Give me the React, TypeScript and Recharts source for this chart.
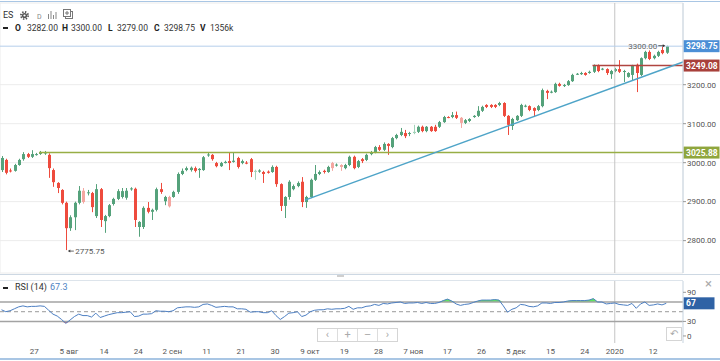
import React from 'react';
import { ComposedChart, Bar, Line, Area, XAxis, YAxis, CartesianGrid, ReferenceLine, ReferenceDot } from 'recharts';

const opens = [
  2981, 3007, 2980, 2979, 2994, 3009, 3022, 3015, 3021, 3024,
  3024, 3020, 2981, 2948, 2930, 2897, 2832, 2860, 2897, 2928,
  2923, 2922, 2863, 2932, 2850, 2863, 2894, 2907, 2912, 2910,
  2932, 2933, 2835, 2835, 2884, 2874, 2879, 2932, 2901, 2912,
  2912, 2925, 2971, 2981, 2981, 2986, 2981, 2981, 3020, 3020,
  2999, 2991, 2999, 3004, 3002, 3012, 2999, 3000, 3009, 2977,
  2977, 2976, 2977, 2976, 2989, 2945, 2889, 2912, 2932, 2940,
  2951, 2899, 2912, 2956, 2971, 2979, 2976, 2999, 2994, 2994,
  2986, 2994, 3015, 2989, 3009, 3007, 3022, 3027, 3040, 3033,
  3048, 3040, 3063, 3071, 3076, 3074, 3076, 3079, 3092, 3081,
  3092, 3092, 3092, 3104, 3117, 3117, 3122, 3115, 3102, 3107,
  3117, 3120, 3133, 3148, 3148, 3148, 3148, 3153, 3120, 3094,
  3109, 3120, 3145, 3145, 3140, 3135, 3145, 3184, 3181, 3181,
  3202, 3197, 3199, 3209, 3227, 3227, 3230, 3230, 3233, 3248,
  3240, 3240, 3227, 3235, 3240, 3233, 3220, 3225, 3251, 3225,
  3268, 3284, 3268, 3274, 3289, 3282,
];
const highs = [
  3017, 3010, 2985, 2997, 3010, 3027, 3025, 3032, 3025, 3030,
  3030, 3024, 2985, 2950, 2932, 2900, 2865, 2900, 2940, 2935,
  2930, 2925, 2945, 2935, 2866, 2894, 2910, 2932, 2935, 2935,
  2937, 2936, 2850, 2888, 2899, 2882, 2936, 2948, 2915, 2915,
  2928, 2975, 2985, 2990, 2990, 2990, 2986, 3017, 3026, 3022,
  3002, 3002, 3005, 3025, 3025, 3015, 3008, 3004, 3012, 2982,
  2983, 2979, 2980, 2993, 2992, 2947, 2914, 2955, 2944, 2952,
  2963, 2915, 2959, 2994, 2980, 2982, 2992, 3002, 2998, 2996,
  2997, 3018, 3018, 3007, 3012, 3023, 3030, 3043, 3045, 3052,
  3050, 3066, 3074, 3089, 3084, 3079, 3097, 3095, 3095, 3094,
  3094, 3097, 3107, 3120, 3119, 3130, 3131, 3117, 3112, 3114,
  3122, 3145, 3146, 3150, 3150, 3150, 3156, 3155, 3122, 3115,
  3122, 3151, 3149, 3147, 3142, 3148, 3190, 3187, 3185, 3205,
  3205, 3202, 3212, 3228, 3230, 3233, 3232, 3236, 3252, 3252,
  3243, 3242, 3238, 3243, 3263, 3238, 3232, 3251, 3254, 3270,
  3287, 3288, 3277, 3287, 3299, 3300,
];
const lows = [
  2976, 2970, 2975, 2977, 2992, 3005, 3012, 3012, 3018, 3020,
  3020, 2961, 2938, 2922, 2893, 2775.75, 2825, 2827, 2893, 2895,
  2916, 2873, 2858, 2835, 2820, 2860, 2890, 2904, 2908, 2905,
  2928, 2835, 2810, 2830, 2870, 2853, 2875, 2920, 2891, 2885,
  2910, 2920, 2968, 2978, 2977, 2975, 2961, 2979, 3015, 3005,
  2988, 2989, 2998, 2981, 3000, 2985, 2996, 2996, 2963, 2956,
  2974, 2948, 2972, 2974, 2938, 2876, 2858, 2905, 2929, 2937,
  2886, 2884, 2909, 2953, 2968, 2972, 2974, 2979, 2990, 2979,
  2983, 2991, 2983, 2986, 2999, 3004, 3019, 3024, 3030, 3030,
  3020, 3037, 3060, 3068, 3063, 3068, 3073, 3076, 3078, 3078,
  3079, 3079, 3089, 3102, 3114, 3114, 3112, 3089, 3099, 3104,
  3115, 3117, 3130, 3140, 3140, 3140, 3145, 3117, 3071, 3084,
  3107, 3117, 3142, 3132, 3117, 3132, 3142, 3163, 3178, 3179,
  3195, 3194, 3197, 3207, 3225, 3225, 3223, 3228, 3230, 3232,
  3237, 3225, 3215, 3232, 3230, 3207, 3218, 3212, 3181, 3222,
  3265, 3263, 3265, 3271, 3278, 3279,
];
const closes = [
  3012, 2974, 2979, 2994, 3007, 3022, 3015, 3022, 3022, 3025,
  3026, 2986, 2950, 2935, 2897, 2832, 2860, 2897, 2928, 2899,
  2924, 2886, 2932, 2853, 2863, 2891, 2907, 2927, 2927, 2928,
  2934, 2853, 2848, 2884, 2874, 2879, 2932, 2925, 2912, 2888,
  2925, 2971, 2979, 2986, 2987, 2979, 2984, 3014, 3021, 3009,
  2991, 2999, 3002, 2999, 3005, 2989, 3004, 2999, 2976, 2979,
  2980, 2971, 2974, 2989, 2945, 2889, 2912, 2951, 2940, 2948,
  2899, 2912, 2956, 2971, 2976, 2976, 2989, 2986, 2995, 2989,
  2994, 3015, 2986, 3004, 3004, 3020, 3027, 3040, 3033, 3048,
  3043, 3063, 3071, 3079, 3068, 3076, 3079, 3092, 3081, 3092,
  3081, 3081, 3104, 3117, 3116, 3122, 3115, 3102, 3109, 3112,
  3120, 3133, 3143, 3143, 3143, 3143, 3153, 3120, 3097, 3112,
  3120, 3148, 3146, 3135, 3133, 3145, 3186, 3179, 3182, 3202,
  3197, 3199, 3209, 3225, 3228, 3230, 3225, 3233, 3248, 3235,
  3241, 3230, 3235, 3240, 3233, 3235, 3230, 3248, 3230, 3268,
  3284, 3266, 3274, 3284, 3281, 3298.75,
];
const rsiValues = [
  54, 50, 52, 56, 60, 62, 60, 61, 61, 62,
  61, 53, 45, 41, 34, 26, 33, 40, 45, 42,
  42, 39, 47, 38, 41, 44, 46, 48, 48, 49,
  50, 40, 41, 45, 45, 46, 52, 51, 51, 50,
  52, 58, 59, 60, 60, 59, 60, 65, 66, 63,
  59, 60, 61, 60, 60, 56, 56, 55, 49, 50,
  50, 48, 48, 52, 42, 34, 40, 47, 48, 50,
  40, 43, 50, 53, 54, 54, 56, 55, 56, 56,
  57, 61, 55, 58, 58, 61, 62, 65, 63, 67,
  66, 68, 69, 70, 67, 68, 68, 69, 67, 69,
  67, 67, 69, 73, 76, 72, 66, 63, 65, 66,
  69, 72, 74, 74, 74, 75, 74, 62, 49, 55,
  58, 65, 64, 61, 60, 62, 68, 68, 67, 69,
  69, 70, 72, 73, 73, 73, 73, 74, 77, 70,
  70, 66, 67, 68, 65, 64, 63, 67, 57, 66,
  70, 63, 64, 66, 64, 67.3,
];
const paleCandles = [19, 39, 59, 77, 79, 96, 107];

const tickIndex = [7.65, 15.73, 23.89, 31.89, 39.81, 47.83, 55.83, 63.75, 71.91, 79.91, 87.93, 95.99, 103.92, 111.93, 119.93, 128.02, 136.01, 142.99, 151.93];
const tickLabels = ['27', '5 авг', '14', '24', '2 сен', '11', '21', '30', '9 окт', '19', '28', '7 ноя', '17', '26', '5 дек', '15', '24', '2020', '12'];
const priceTicks = [2800, 2900, 3000, 3100, 3200];
const rsiTicks = [0, 30, 90];
const yearIndex = 142.99;

const lastPrice = 3298.75;
const redLevel = 3249.08;
const redStart = 137.8;
const oliveLevel = 3025.88;
const oliveStart = 8.74;
const trendFrom = { i: 70.75, p: 2904 };
const trendTo = { i: 158.9, p: 3258 };
const lowMark = { i: 15, p: 2775.75, text: '2775.75' };
const highMark = { i: 155, p: 3300, text: '3300.00' };
const rsiLast = 67.3;

const xDomain: [number, number] = [-0.35, 158.9];
const priceDomain: [number, number] = [2717, 3409.5];
const rsiDomain: [number, number] = [-14.5, 113.3];

const data = opens.map((o, i) => {
  const r = rsiValues[i];
  return {
    i,
    open: o,
    high: highs[i],
    low: lows[i],
    close: closes[i],
    range: [lows[i], highs[i]],
    rsi: r,
    ob: [70, Math.max(70, r)],
    os: [Math.min(30, r), 30],
  };
});

const FONT = 'Roboto, "Liberation Sans", Arial, sans-serif';

const CandleShape = (props: any) => {
  const { x, y, width, height, payload } = props;
  if (x == null || y == null || !payload) return null;
  const { open, close, high, low, i } = payload;
  const top = Math.min(y, y + height);
  const bot = Math.max(y, y + height);
  const k = high > low ? (bot - top) / (high - low) : 0;
  const py = (v: number) => top + (high - v) * k;
  const cx = Math.round(x + width / 2);
  const up = close >= open;
  const pale = paleCandles.includes(i);
  const color = up ? (pale ? '#a3d2b8' : '#55a27b') : (pale ? '#f4a7a1' : '#ee4b3d');
  const bTop = py(Math.max(open, close));
  const bBot = py(Math.min(open, close));
  return (
    <g>
      <line x1={cx + 0.5} x2={cx + 0.5} y1={top} y2={bot} stroke={color} strokeWidth={1} />
      <rect x={cx - 1} y={bTop} width={3} height={Math.max(1, bBot - bTop)} fill={color} />
    </g>
  );
};

const makeTag = (text: string, bg: string, w: number) => (props: any) => {
  const vb = props.viewBox || {};
  const x = (vb.x || 0) + (vb.width || 0);
  const y = vb.y || 0;
  return (
    <g>
      <rect x={x + 0.5} y={y - 6} width={w} height={12} fill={bg} />
      <text x={x + 3} y={y + 3} fill="#fff" fontSize={8.5} fontWeight="bold" fontFamily={FONT}>{text}</text>
    </g>
  );
};

const LowMarkShape = (p: any) => {
  const { cx, cy } = p;
  if (cx == null) return null;
  return (
    <g>
      <line x1={cx + 3} x2={cx + 8} y1={cy + 1} y2={cy + 1} stroke="#444" strokeWidth={0.8} />
      <path d={`M${cx + 2},${cy + 1} L${cx + 4.5},${cy - 0.5} L${cx + 4.5},${cy + 2.5} Z`} fill="#444" />
      <text x={cx + 9.5} y={cy + 4} fontSize={8} fill="#555" fontFamily={FONT}>{lowMark.text}</text>
    </g>
  );
};

const HighMarkShape = (p: any) => {
  const { cx, cy } = p;
  if (cx == null) return null;
  return (
    <g>
      <line x1={cx - 8} x2={cx - 2} y1={cy} y2={cy} stroke="#333" strokeWidth={0.8} />
      <path d={`M${cx - 1},${cy} L${cx - 3.5},${cy - 1.5} L${cx - 3.5},${cy + 1.5} Z`} fill="#333" />
      <text x={cx - 9} y={cy + 3} fontSize={8} fill="#666" textAnchor="end" fontFamily={FONT}>{highMark.text}</text>
    </g>
  );
};

const abs = (left: number, top: number, extra: React.CSSProperties = {}): React.CSSProperties => ({
  position: 'absolute', left, top, whiteSpace: 'nowrap', ...extra,
});

export default function App() {
  const hdr: React.CSSProperties = { fontSize: 8.5, color: '#333', fontFamily: FONT, lineHeight: '10px' };
  const bold: React.CSSProperties = { ...hdr, fontWeight: 'bold', color: '#222' };
  return (
    <div style={{ position: 'absolute', left: 0, top: 0, width: 720, height: 361, background: '#fff', overflow: 'hidden', fontFamily: FONT }}>
      <div style={abs(0, 0)}>
        <ComposedChart width={720} height={274} data={data} margin={{ top: 3, right: 0, bottom: 1, left: 0 }}>
          <CartesianGrid stroke="#ececec" strokeWidth={1} />
          <XAxis dataKey="i" type="number" domain={xDomain} ticks={tickIndex} allowDataOverflow height={0} tick={false} axisLine={false} tickLine={false} />
          <YAxis orientation="right" domain={priceDomain} ticks={priceTicks} allowDataOverflow width={37}
            tick={{ fontSize: 8, fill: '#555', fontFamily: FONT }} tickFormatter={(v: number) => v.toFixed(2)}
            tickSize={3} tickMargin={1} axisLine={{ stroke: '#c6d3df' }} tickLine={{ stroke: '#999' }} />
          <ReferenceLine x={yearIndex} stroke="#c4c4c4" strokeWidth={1} />
          <ReferenceLine y={lastPrice} stroke="#b5cfeb" strokeWidth={1} />
          <ReferenceLine segment={[{ x: oliveStart, y: oliveLevel }, { x: xDomain[1], y: oliveLevel }]} stroke="#98ae45" strokeWidth={1.5} />
          <ReferenceLine segment={[{ x: redStart, y: redLevel }, { x: xDomain[1], y: redLevel }]} stroke="#b04540" strokeWidth={1.5} />
          <ReferenceLine segment={[{ x: trendFrom.i, y: trendFrom.p }, { x: trendTo.i, y: trendTo.p }]} stroke="#4ea4c8" strokeWidth={1.5} />
          <Bar dataKey="range" barSize={3} isAnimationActive={false} shape={(p: any) => <CandleShape {...p} />} />
          <ReferenceDot x={lowMark.i} y={lowMark.p} r={2} shape={(p: any) => <LowMarkShape {...p} />} />
          <ReferenceDot x={highMark.i} y={highMark.p} r={2} shape={(p: any) => <HighMarkShape {...p} />} />
          <ReferenceLine y={oliveLevel} stroke="none" label={makeTag(oliveLevel.toFixed(2), '#8fa63d', 36)} />
          <ReferenceLine y={redLevel} stroke="none" label={makeTag(redLevel.toFixed(2), '#a8403b', 36)} />
          <ReferenceLine y={lastPrice} stroke="none" label={makeTag(lastPrice.toFixed(2), '#4b8fd6', 36)} />
        </ComposedChart>
      </div>

      <div style={abs(0, 281)}>
        <ComposedChart width={720} height={79} data={data} margin={{ top: 0, right: 0, bottom: 0, left: 0 }}>
          <XAxis dataKey="i" type="number" domain={xDomain} ticks={tickIndex} allowDataOverflow height={17} interval={0}
            tickFormatter={(v: number) => tickLabels[tickIndex.indexOf(v)] ?? ''}
            axisLine={false} tickLine={false} tickSize={0} tickMargin={5} tick={{ fontSize: 8, fill: '#555', fontFamily: FONT }} />
          <YAxis orientation="right" domain={rsiDomain} ticks={rsiTicks} allowDataOverflow width={37}
            tick={{ fontSize: 8, fill: '#555', fontFamily: FONT }} tickSize={3} tickMargin={1}
            axisLine={{ stroke: '#c6d3df' }} tickLine={{ stroke: '#999' }} />
          <ReferenceLine x={yearIndex} stroke="#c4c4c4" strokeWidth={1} />
          <Area dataKey="ob" stroke="none" fill="#4fe04f" fillOpacity={0.9} isAnimationActive={false} />
          <Area dataKey="os" stroke="none" fill="#e05a5a" fillOpacity={0.9} isAnimationActive={false} />
          <ReferenceLine y={70} stroke="#a3a3a3" strokeWidth={1.5} />
          <ReferenceLine y={30} stroke="#a3a3a3" strokeWidth={1.5} />
          <ReferenceLine y={50} stroke="#9a9a9a" strokeWidth={1} strokeDasharray="4 3" />
          <Line dataKey="rsi" stroke="#4d7fc3" strokeWidth={1} dot={false} isAnimationActive={false} />
          <ReferenceLine y={rsiLast} stroke="none" label={makeTag(String(Math.round(rsiLast)), '#2f62a5', 31)} />
        </ComposedChart>
      </div>

      {/* frame lines */}
      <div style={abs(0, 1, { width: 720, height: 1, background: '#a9c6e4' })} />
      <div style={abs(0, 274, { width: 720, height: 1, background: '#cdd8e3' })} />
      <div style={abs(0, 280, { width: 683, height: 1, background: '#dde4eb' })} />
      <div style={abs(0, 358, { width: 720, height: 2, background: '#a9c6e4' })} />
      <div style={abs(337, 275, { width: 7, height: 2, background: '#cfcfcf' })} />

      {/* header */}
      <div style={abs(3, 10, { ...hdr, fontSize: 9 })}>ES</div>
      <svg style={abs(19, 10)} width={11} height={11} viewBox="0 0 11 11">
        <circle cx={5.5} cy={5.5} r={3.6} fill="none" stroke="#555" strokeWidth={1.8} strokeDasharray="1.4 1.43" />
        <circle cx={5.5} cy={5.5} r={2.6} fill="#555" />
        <circle cx={5.5} cy={5.5} r={1.1} fill="#fff" />
      </svg>
      <div style={abs(37, 12, { ...hdr, fontSize: 7, color: '#888' })}>D</div>
      <svg style={abs(47, 10)} width={11} height={10} viewBox="0 0 11 10">
        <rect x={1} y={4} width={1} height={5} fill="#888" />
        <rect x={3.5} y={1} width={1} height={8} fill="#888" />
        <rect x={6} y={5} width={1} height={4} fill="#888" />
        <rect x={8.5} y={2} width={1} height={7} fill="#888" />
      </svg>
      <svg style={abs(63, 9)} width={11} height={11} viewBox="0 0 11 11">
        <rect x={2.5} y={2.5} width={7} height={7} fill="#fff" stroke="#777" strokeWidth={1} />
        <rect x={0.5} y={0.5} width={7} height={7} fill="#fff" stroke="#777" strokeWidth={1} />
        <line x1={4} x2={4} y1={2} y2={6} stroke="#777" />
        <line x1={2} x2={6} y1={4} y2={4} stroke="#777" />
      </svg>

      <div style={abs(3, 27, { width: 5, height: 2, background: '#222' })} />
      <div style={abs(15, 23, bold)}>O</div>
      <div style={abs(27, 23, hdr)}>3282.00</div>
      <div style={abs(62, 23, bold)}>H</div>
      <div style={abs(71, 23, hdr)}>3300.00</div>
      <div style={abs(108, 23, bold)}>L</div>
      <div style={abs(117, 23, hdr)}>3279.00</div>
      <div style={abs(154, 23, bold)}>C</div>
      <div style={abs(164, 23, hdr)}>3298.75</div>
      <div style={abs(200, 23, bold)}>V</div>
      <div style={abs(210, 23, hdr)}>1356k</div>

      {/* RSI label */}
      <div style={abs(3, 287, { width: 5, height: 2, background: '#222' })} />
      <div style={abs(15, 282, { ...hdr, fontSize: 9 })}>RSI (14)</div>
      <div style={abs(50, 282, { ...hdr, fontSize: 9, color: '#4d7fc3' })}>67.3</div>
      <div style={abs(705, 277, { fontSize: 13, color: '#aaa', fontFamily: FONT, lineHeight: '13px' })}>×</div>

      {/* navigation */}
      <div style={abs(317, 328, { width: 81, height: 14, border: '1px solid #d5d5d5', background: '#fff', boxSizing: 'border-box', display: 'flex' })}>
        {['‹', '+', '–', '›'].map((s, k) => (
          <div key={k} style={{ flex: 1, borderLeft: k ? '1px solid #ddd' : 'none', textAlign: 'center', fontSize: 11, lineHeight: '12px', color: '#aaa', fontFamily: FONT }}>{s}</div>
        ))}
      </div>
      <div style={abs(666, 327, { width: 16, height: 14, border: '1px solid #d5d5d5', background: '#fff', boxSizing: 'border-box', textAlign: 'center', fontSize: 10, lineHeight: '12px', color: '#aaa', fontFamily: FONT })}>↶</div>
    </div>
  );
}
